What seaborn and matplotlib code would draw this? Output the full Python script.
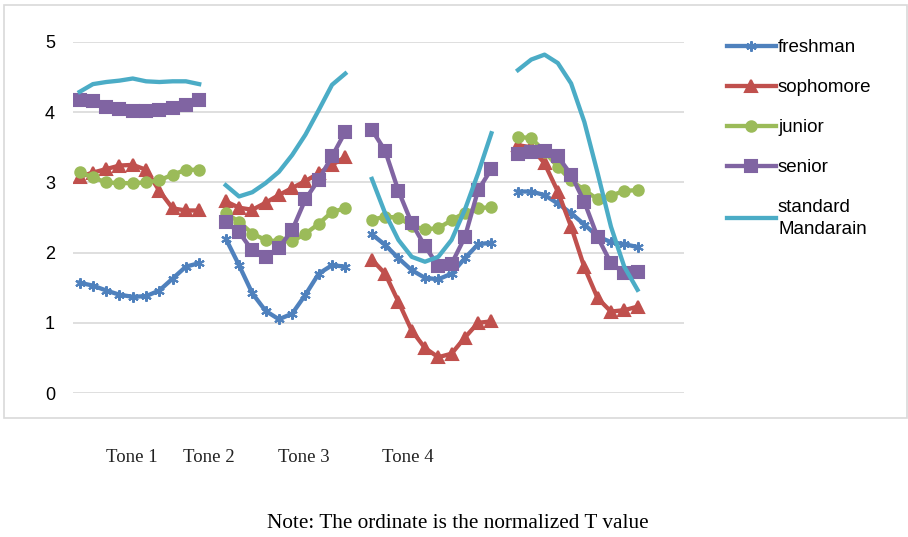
import numpy as np
import pandas as pd
import matplotlib
matplotlib.use("Agg")
import matplotlib.pyplot as plt
import seaborn as sns
from matplotlib.lines import Line2D
from matplotlib.patches import Rectangle

# values, 10 points per tone
freshman = [1.57, 1.53, 1.46, 1.40, 1.37, 1.38, 1.46, 1.63, 1.80, 1.85,
            2.20, 1.82, 1.42, 1.17, 1.05, 1.13, 1.40, 1.70, 1.82, 1.80,
            2.26, 2.11, 1.92, 1.75, 1.64, 1.62, 1.70, 1.92, 2.12, 2.14,
            2.87, 2.87, 2.82, 2.70, 2.56, 2.40, 2.23, 2.15, 2.12, 2.08]
sophomore = [3.08, 3.14, 3.19, 3.24, 3.25, 3.18, 2.88, 2.63, 2.60, 2.60,
             2.73, 2.64, 2.61, 2.71, 2.82, 2.92, 3.02, 3.13, 3.25, 3.36,
             1.90, 1.70, 1.30, 0.89, 0.64, 0.51, 0.56, 0.79, 1.00, 1.02,
             3.53, 3.50, 3.27, 2.87, 2.37, 1.79, 1.35, 1.16, 1.18, 1.23]
junior = [3.15, 3.07, 3.00, 2.99, 2.99, 3.00, 3.03, 3.11, 3.18, 3.18,
          2.56, 2.44, 2.27, 2.18, 2.16, 2.16, 2.27, 2.41, 2.58, 2.63,
          2.47, 2.51, 2.50, 2.38, 2.33, 2.35, 2.46, 2.57, 2.63, 2.65,
          3.65, 3.63, 3.44, 3.22, 3.03, 2.89, 2.76, 2.81, 2.88, 2.89]
senior = [4.17, 4.16, 4.07, 4.04, 4.02, 4.01, 4.03, 4.06, 4.10, 4.18,
          2.44, 2.29, 2.03, 1.94, 2.07, 2.32, 2.76, 3.04, 3.37, 3.72,
          3.75, 3.45, 2.88, 2.42, 2.09, 1.81, 1.84, 2.22, 2.89, 3.19,
          3.40, 3.44, 3.45, 3.37, 3.11, 2.72, 2.22, 1.85, 1.71, 1.73]
standard = [4.29, 4.40, 4.43, 4.45, 4.48, 4.44, 4.43, 4.44, 4.44, 4.40,
            2.96, 2.80, 2.86, 2.99, 3.15, 3.39, 3.68, 4.03, 4.39, 4.55,
            3.05, 2.56, 2.18, 1.94, 1.87, 1.94, 2.18, 2.61, 3.13, 3.70,
            4.60, 4.75, 4.82, 4.70, 4.41, 3.86, 3.13, 2.37, 1.80, 1.47]

series_names = ["freshman", "sophomore", "junior", "senior", "standard\nMandarain"]
tone_labels = ["Tone 1", "Tone 2", "Tone 3", "Tone 4"]
y_ticks = [0, 1, 2, 3, 4, 5]

colors = ["#4F81BD", "#C0504D", "#9BBB59", "#8064A2", "#4BACC6"]
markers = [(6, 2, 0), "^", "o", "s", None]
msizes = [7.5, 8, 7.5, 8, 0]

# each tone takes 10 categories, with one empty category between tones
pos = np.concatenate([np.arange(10) + 11 * t for t in range(4)])
tone = np.repeat(tone_labels, 10)

W, H = 908, 537
fig = plt.figure(figsize=(W / 100, H / 100), dpi=100)
ax = fig.add_axes([73 / W, 1 - 393 / H, (684 - 73) / W, (393 - 42) / H])

all_vals = [freshman, sophomore, junior, senior, standard]
for name, vals, c, m, ms in zip(series_names, all_vals, colors, markers, msizes):
    df = pd.DataFrame({"pos": pos, "val": vals, "tone": tone})
    kw = dict(marker=m, markersize=ms, markeredgecolor=c, markerfacecolor=c,
              markeredgewidth=1.5) if m is not None else {}
    sns.lineplot(data=df, x="pos", y="val", units="tone", estimator=None,
                 color=c, linewidth=3.1, ax=ax, legend=False, zorder=3, **kw)

ax.set_xlim(-0.5, 45.5)
ax.set_ylim(0, 5)
ax.set_yticks(y_ticks)
ax.set_yticklabels([str(v) for v in y_ticks], fontsize=13, family="Liberation Sans")
ax.tick_params(axis="y", length=0, pad=13)
ax.set_xticks([])
ax.set_xlabel("")
ax.set_ylabel("")
for s in ax.spines.values():
    s.set_visible(False)
ax.grid(axis="y", color="#D9D9D9", linewidth=1.2)
ax.set_axisbelow(True)

handles = []
for c, m, ms in zip(colors, markers, msizes):
    handles.append(Line2D([0], [0], color=c, linewidth=3.1, marker=m,
                          markersize=ms, markerfacecolor=c, markeredgecolor=c,
                          markeredgewidth=1.5))
leg = fig.legend(handles, series_names, loc="upper left",
                 bbox_to_anchor=(727 / W, 1 - 39 / H), frameon=False,
                 prop={"family": "Liberation Sans", "size": 13.5},
                 handlelength=2.6, handletextpad=0.12, labelspacing=1.22,
                 numpoints=1, borderaxespad=0, borderpad=0)
for t in leg.get_texts():
    t.set_linespacing(1.35)

tone_x = [132, 209, 304, 408]
for lab, x in zip(tone_labels, tone_x):
    fig.text(x / W, 1 - 458 / H, lab, ha="center", va="center",
             family="Liberation Serif", fontsize=13.5, color="#222222")

fig.text(458 / W, 1 - 523 / H, "Note: The ordinate is the normalized T value",
         ha="center", va="center", family="Liberation Serif", fontsize=15.3)

fig.patches.append(Rectangle((4 / W, 1 - 418 / H), 903 / W, 413 / H,
                             transform=fig.transFigure, fill=False,
                             edgecolor="#D9D9D9", linewidth=1.2))

fig.savefig("out.png", dpi=100)
